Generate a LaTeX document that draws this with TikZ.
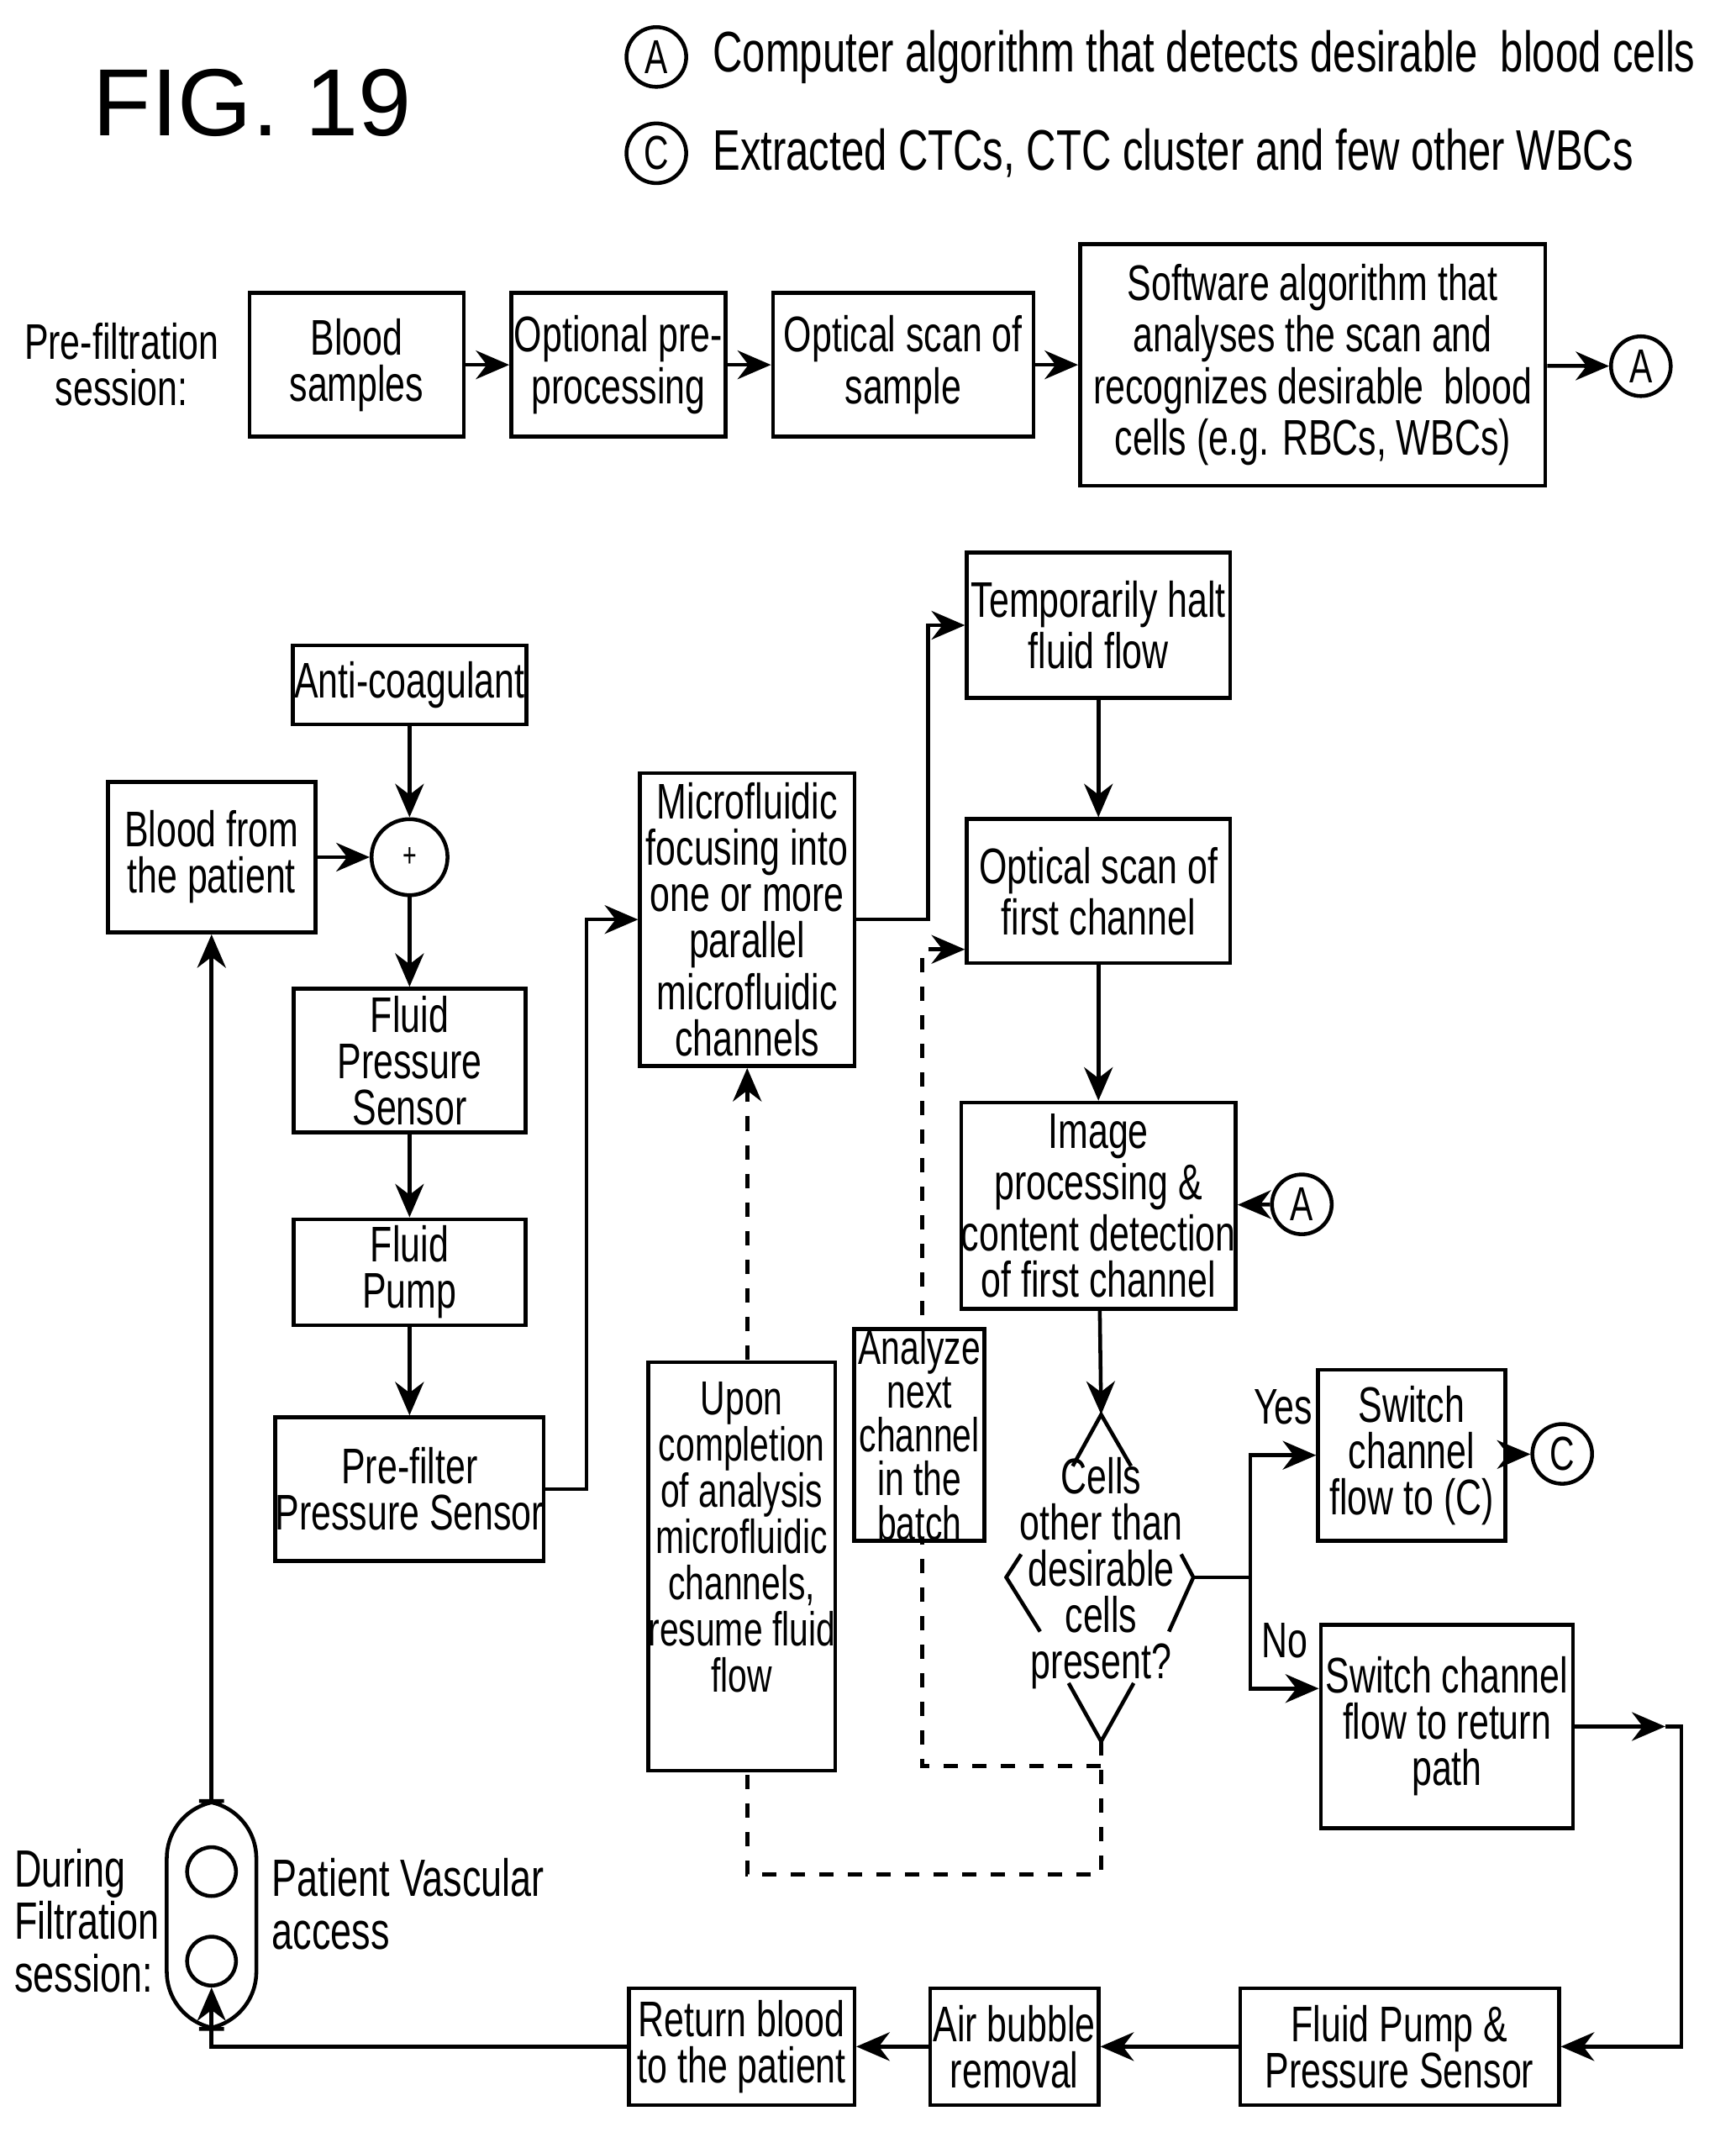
\documentclass[tikz,border=0pt]{standalone}
\usepackage{fontspec}
\setmainfont{Liberation Sans}[FakeStretch=0.72]
\newfontfamily\figfont{Liberation Sans}
\usetikzlibrary{arrows.meta,positioning,calc}

\tikzset{
  box/.style={draw, thick, align=center, inner sep=0pt, font=\fontsize{10.5}{9.7}\selectfont},
  lbl/.style={align=center, inner sep=0pt, font=\fontsize{10.5}{9.7}\selectfont},
  conn/.style={thick, -{Stealth[length=7pt,width=6pt]}},
  dconn/.style={thick, dashed, -{Stealth[length=7pt,width=6pt]}},
  ref/.style={draw, thick, circle, minimum size=0.44cm, inner sep=0pt, font=\fontsize{10}{11}\selectfont},
}

\begin{document}
\begin{tikzpicture}[x=0.01cm,y=-0.01cm]
    \useasboundingbox (0,0) rectangle (1280,1572);

    % header and legend
    \node[lbl, font=\figfont\fontsize{20}{24}\selectfont] (fig) at (186,76) {FIG. 19};
    \node[ref] (legA) at (484,42) {A};
    \node[lbl, anchor=west, font=\fontsize{12}{13}\selectfont] (legAtxt) at (525,42) {Computer algorithm that detects desirable\ \ blood cells};
    \node[ref] (legC) at (484,113) {C};
    \node[lbl, anchor=west, font=\fontsize{12}{13}\selectfont] (legCtxt) at (525,113) {Extracted CTCs, CTC cluster and few other WBCs};

    % pre-filtration session
    \node[lbl, anchor=east] (pre) at (162,269) {Pre-filtration\\session:};
    \node[box, minimum width=1.58cm, minimum height=1.06cm] (samples) at (263,269) {Blood\\samples};
    \node[box, minimum width=1.58cm, minimum height=1.06cm] (preproc) at (456,269) {Optional pre-\\processing};
    \node[box, minimum width=1.92cm, minimum height=1.06cm] (scan) at (666,269) {Optical scan of\\sample};
    \node[box, minimum width=3.43cm, minimum height=1.78cm] (soft) at (968,269) {Software algorithm that\\analyses the scan and\\recognizes desirable\ \ blood\\cells (e.g. RBCs, WBCs)};
    \node[ref] (outA) at (1210,270) {A};
    \draw[conn] (samples) -- (preproc);
    \draw[conn] (preproc) -- (scan);
    \draw[conn] (scan) -- (soft);
    \draw[conn] (soft) -- (outA);

    % filtration session
    \node[box, minimum width=1.72cm, minimum height=0.58cm] (anti) at (302,505) {Anti-coagulant};
    \node[draw, thick, circle, minimum size=0.56cm, inner sep=0pt] (sum) at (302,632) {\scriptsize +};
    \node[box, minimum width=1.53cm, minimum height=1.11cm] (patient) at (156,632) {Blood from\\the patient};
    \node[box, minimum width=1.71cm, minimum height=1.06cm] (psens) at (302,782) {Fluid\\Pressure\\Sensor};
    \node[box, minimum width=1.71cm, minimum height=0.78cm] (pump) at (302,938) {Fluid\\Pump};
    \node[box, minimum width=1.96cm, minimum height=1.06cm] (prefilt) at (302,1098) {Pre-filter\\Pressure Sensor};
    \node[box, minimum width=1.58cm, minimum height=2.16cm] (micro) at (551,678) {Microfluidic\\focusing into\\one or more\\parallel\\microfluidic\\channels};
    \node[box, minimum width=1.94cm, minimum height=1.07cm] (halt) at (810,461) {Temporarily halt\\fluid flow};
    \node[box, minimum width=1.94cm, minimum height=1.06cm] (scan1) at (810,657) {Optical scan of\\first channel};
    \node[box, minimum width=1.94cm, minimum height=1.52cm] (image) at (810,889) {Image\\processing \&\\content detection\\of first channel};
    \node[ref] (inA) at (960,888) {A};
    \node[box, minimum width=1.38cm, minimum height=1.26cm] (swC) at (1041,1073) {Switch\\channel\\flow to (C)};
    \node[ref] (outC) at (1152,1072) {C};
    \node[box, minimum width=1.86cm, minimum height=1.50cm] (swR) at (1067,1273) {Switch channel\\flow to return\\path};
    \node[box, minimum width=2.35cm, minimum height=0.86cm] (pumpps) at (1032,1509) {Fluid Pump \&\\Pressure Sensor};
    \node[box, minimum width=1.24cm, minimum height=0.86cm] (bubble) at (748,1509) {Air bubble\\removal};
    \node[box, minimum width=1.66cm, minimum height=0.86cm] (ret) at (547,1509) {Return blood\\to the patient};

    % decision
    \coordinate (dtop) at (812,1043);
    \coordinate (dbot) at (812,1284);
    \coordinate (dright) at (880,1163);
    \draw[thick] (791,1081) -- (dtop) -- (834,1081);
    \draw[thick] (753,1146) -- (742,1163) -- (767,1203);
    \draw[thick] (871,1146) -- (dright) -- (862,1203);
    \draw[thick] (788,1241) -- (dbot) -- (836,1241);
    \node[lbl] (cells) at (812,1160) {Cells\\other than\\desirable\\cells\\present?};

    % dashed return loop
    \draw[dconn] (dbot) -- (812,1382) -| (micro.south);
    \draw[dconn] (812,1302) -| (680,700) -- (scan1.west |- 0,700);

    \node[draw, thick, fill=white, minimum width=1.38cm, minimum height=3.01cm] (upon) at (547,1155) {};
    \node[lbl, anchor=north, font=\fontsize{10}{9.7}\selectfont] (upontxt) at ([yshift=-0.15cm]upon.north) {Upon\\completion\\of analysis\\microfluidic\\channels,\\resume fluid\\flow};
    \node[box, minimum width=0.96cm, minimum height=1.56cm, fill=white, font=\fontsize{10}{9.2}\selectfont] (next) at (678,1058) {Analyze\\next\\channel\\in the\\batch};

    % vascular access
    \node[draw, thick, rounded corners=12pt, minimum width=0.66cm, minimum height=1.68cm] (access) at (156,1412) {};
    \node[draw, thick, circle, minimum size=0.36cm, inner sep=0pt] (vout) at (156,1380) {};
    \node[draw, thick, circle, minimum size=0.36cm, inner sep=0pt] (vin) at (156,1446) {};
    \node[lbl, anchor=west, align=left, font=\fontsize{11}{11}\selectfont] (vlbl) at (200,1404) {Patient Vascular\\access};
    \node[lbl, anchor=west, align=left, font=\fontsize{11}{11}\selectfont] (during) at (10,1416) {During\\Filtration\\session:};

    % solid connectors
    \draw[conn] (anti) -- (sum);
    \draw[conn] (patient) -- (sum);
    \draw[conn] (sum) -- (psens);
    \draw[conn] (psens) -- (pump);
    \draw[conn] (pump) -- (prefilt);
    \draw[conn] (prefilt.east) -- ++(30,0) |- (micro.west);
    \draw[conn] (micro.east) -- ++(53,0) |- (halt.west);
    \draw[conn] (halt) -- (scan1);
    \draw[conn] (scan1) -- (image);
    \draw[conn] (image) -- (dtop);
    \draw[conn] (inA) -- (image);
    \draw[thick] (dright) -- (922,1163) coordinate (split);
    \draw[conn] (split) |- (swC.west) node[lbl, pos=0.75, above=6pt] {Yes};
    \draw[conn] (split) |- ($(swR.west)+(0,-28)$) node[lbl, pos=0.75, above=6pt] {No};
    \draw[conn] (swC) -- (outC);
    \coordinate (rturn) at (1240,1273);
    \draw[conn] (swR.east) -- (1228,1273);
    \draw[conn] (1228,1273) -- (rturn) |- (pumpps.east);
    \draw[conn] (pumpps) -- (bubble);
    \draw[conn] (bubble) -- (ret);
    \draw[conn] (ret.west) -| (vin.south);
    \draw[conn] (156,1328) -- (patient.south);
\end{tikzpicture}
\end{document}
